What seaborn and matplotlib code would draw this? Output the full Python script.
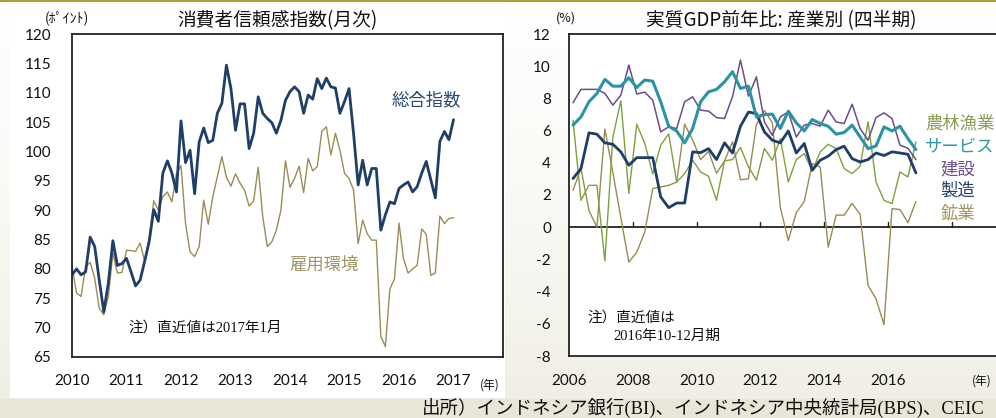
import numpy as np
import pandas as pd
import matplotlib
matplotlib.use("Agg")
import matplotlib.pyplot as plt
import seaborn as sns
from matplotlib.patches import Rectangle

# ---------------- data ----------------
# Consumer confidence (monthly, Jan 2010 - Jan 2017)
month_start = 2010
n_months = 85
consumer_total = [79.0, 80.0, 79.0, 79.5, 85.4, 83.8, 78.1, 72.7, 77.6, 84.8, 80.6, 80.9,
                  81.8, 79.5, 77.1, 78.1, 81.3, 84.7, 90.1, 88.1, 96.3, 98.4, 96.3, 93.1,
                  105.2, 98.1, 100.2, 92.8, 101.6, 104.0, 101.5, 101.9, 106.5, 108.2, 114.7, 110.7,
                  103.6, 108.1, 108.1, 100.5, 103.1, 109.3, 106.5, 105.6, 104.9, 103.1, 105.3, 108.7,
                  110.2, 111.0, 110.2, 106.5, 109.6, 108.9, 112.4, 110.7, 112.5, 111.0, 110.8, 106.5,
                  108.5, 110.7, 103.0, 94.3, 98.5, 94.3, 97.1, 97.1, 86.6, 89.2, 91.4, 91.1,
                  93.7, 94.3, 94.8, 93.1, 94.0, 96.3, 98.3, 95.2, 92.1, 101.7, 103.4, 102.0,
                  105.4]
consumer_employment = [80.4, 75.9, 75.3, 80.4, 81.1, 78.4, 73.3, 72.2, 75.3, 82.7, 79.3, 79.4,
                       83.2, 83.1, 83.0, 84.4, 81.3, 85.2, 91.6, 90.0, 92.3, 93.1, 91.4, 96.2,
                       97.6, 87.7, 82.9, 82.1, 83.8, 91.7, 87.6, 92.3, 95.7, 99.1, 95.6, 94.1,
                       96.2, 94.6, 93.4, 90.7, 91.6, 97.3, 88.9, 83.8, 84.6, 86.6, 90.0, 98.4,
                       93.9, 95.4, 97.5, 93.0, 98.8, 96.7, 97.4, 103.4, 104.2, 99.4, 103.1, 100.2,
                       96.3, 95.4, 93.4, 84.3, 88.3, 86.0, 84.9, 84.9, 68.5, 66.8, 76.6, 78.3,
                       87.8, 81.7, 79.3, 80.0, 80.6, 86.8, 85.9, 78.9, 79.3, 89.0, 87.7, 88.6,
                       88.7]
left_label_total = "総合指数"
left_label_employment = "雇用環境"
left_years = [2010, 2011, 2012, 2013, 2014, 2015, 2016, 2017]
left_yticks = [65, 70, 75, 80, 85, 90, 95, 100, 105, 110, 115, 120]

# Real GDP yoy by industry (quarterly, 2006Q1 - 2016Q4)
q_start = 2006
n_quarters = 44
gdp_agriculture = [6.65, 1.67, 2.6, 2.6, -2.1, 5.6, 7.85, 2.1, 6.4, 5.2, 3.3,
                   5.1, 5.8, 2.8, 3.33, 4.16, 3.43, 3.16, 1.67, 4.12, 4.2, 4.95,
                   3.75, 2.92, 4.89, 4.16, 5.5, 2.81, 4.2, 4.57, 3.49, 4.68, 5.15,
                   4.88, 3.64, 3.33, 3.78, 6.54, 2.81, 1.67, 1.46, 3.43, 3.12, 5.3]
gdp_services = [6.34, 6.85, 7.79, 8.31, 9.18, 8.76, 8.76, 9.28, 8.68, 9.14, 9.07,
                7.79, 6.27, 5.98, 5.24, 6.13, 7.79, 8.41, 8.56, 9.03, 9.66, 8.62,
                8.76, 6.85, 7.0, 7.02, 6.13, 7.21, 6.48, 5.98, 6.69, 6.44, 6.27,
                5.78, 5.88, 6.34, 5.61, 4.88, 5.05, 6.23, 5.98, 6.27, 5.5, 4.82]
gdp_construction = [7.73, 8.56, 8.56, 8.56, 8.31, 7.58, 8.2, 10.07, 8.27, 8.39, 7.89,
                    5.92, 6.23, 6.13, 7.79, 8.1, 7.27, 7.21, 6.81, 6.75, 8.1, 10.38,
                    8.14, 9.34, 6.54, 5.71, 6.85, 7.17, 5.6, 6.34, 6.44, 6.27, 7.27,
                    6.54, 6.44, 7.64, 6.13, 5.4, 6.81, 7.1, 6.75, 5.1, 4.9, 4.2]
gdp_manufacturing = [3.02, 3.64, 5.86, 5.78, 5.24, 5.15, 4.68, 3.85, 4.32, 4.32, 4.32,
                     1.88, 1.21, 1.5, 1.5, 4.68, 4.63, 4.88, 4.2, 5.24, 4.61, 6.27,
                     7.15, 7.06, 5.92, 5.4, 5.24, 5.98, 4.61, 5.2, 3.54, 4.16, 4.41,
                     4.82, 5.03, 4.26, 4.05, 4.2, 4.61, 4.45, 4.68, 4.61, 4.53, 3.37]
gdp_mining = [2.29, 3.64, 1.04, 0.0, 6.1, 3.4, 0.6, -2.17, -1.55, -0.3, 2.4,
              2.5, 2.6, 2.8, 6.4, 5.43, 4.2, 4.7, 3.35, 4.12, 5.3, 2.95,
              3.0, 6.38, 7.25, 6.5, 1.22, -0.82, 0.9, 1.6, 3.95, 3.74, -1.24,
              0.75, 0.75, 1.48, 0.8, -3.62, -4.45, -6.05, 1.15, 1.1, 0.28, 1.6]
right_labels = ["農林漁業", "サービス", "建設", "製造", "鉱業"]
right_xticks = [2006, 2008, 2010, 2012, 2014, 2016, 2018]
right_xticklabels = ["2006", "2008", "2010", "2012", "2014", "2016", ""]
right_yticks = [-8, -6, -4, -2, 0, 2, 4, 6, 8, 10, 12]

# ---------------- style ----------------
sns.set_theme(style="white")
plt.rcParams["font.family"] = ["Lato", "Noto Sans CJK JP", "DejaVu Sans"]
plt.rcParams["axes.unicode_minus"] = False

NAVY = "#1f3e68"
OLIVE = "#9b8d55"
TEAL = "#2b93a6"
PURPLE = "#6b4c8c"
GREEN = "#7ea13c"
MINING = "#9a8b52"
JP = ["Noto Sans CJK JP", "DejaVu Sans"]
SERIF = ["Liberation Serif", "Noto Sans CJK JP"]

W, H = 996, 418
fig = plt.figure(figsize=(W / 100, H / 100), dpi=100)


def fx(px):
    return px / W


def fy(py):
    return 1 - py / H


# background
bg = fig.add_axes([0, 0, 1, 1], zorder=-10)
bg.set_axis_off()
yy = np.linspace(0, 1, H)[:, None]
xx = np.linspace(0, 1, W)[None, :]
t = np.clip(0.05 + 0.55 * yy ** 1.6 + 0.0 * xx, 0, 1)
t[int(H * 0.955):, :] = 0.85
white = np.array([1.0, 1.0, 1.0])
beige = np.array([0.895, 0.885, 0.82])
img = white * (1 - t[..., None]) + beige * t[..., None]
bg.imshow(img, aspect="auto", extent=[0, 1, 0, 1])
bg.set_xlim(0, 1)
bg.set_ylim(0, 1)
bg.add_patch(Rectangle((fx(10), fy(398)), fx(505) - fx(10), fy(4) - fy(398),
                       facecolor="white", edgecolor="none"))
bg.add_patch(Rectangle((0, fy(2)), 1, 2 / H, facecolor="#a9a23a", edgecolor="none"))

# ---------------- left chart ----------------
months = month_start + np.arange(n_months) / 12
df_left = pd.DataFrame({"t": months, "total": consumer_total,
                        "employment": consumer_employment})

ax1 = fig.add_axes([fx(72), fy(357), fx(503) - fx(72), fy(34) - fy(357)])
sns.lineplot(data=df_left, x="t", y="employment", ax=ax1, color=OLIVE, lw=1.0)
sns.lineplot(data=df_left, x="t", y="total", ax=ax1, color=NAVY, lw=2.0)
ax1.set_xlim(2010, 2010 + 431 / 54.5)
ax1.set_ylim(65, 120)
ax1.set_xticks(left_years)
ax1.set_xticklabels([str(y) for y in left_years])
ax1.set_yticks(left_yticks)
ax1.set_xlabel("")
ax1.set_ylabel("")
ax1.set_facecolor("white")
ax1.grid(False)
for s in ax1.spines.values():
    s.set_color("#222222")
    s.set_linewidth(1.3)
    s.set_visible(True)
ax1.tick_params(axis="both", direction="in", length=5, width=1.0, color="#222222",
                labelsize=11, labelcolor="#111111")
ax1.tick_params(axis="x", pad=12)
ax1.tick_params(axis="y", pad=15)

fig.text(fx(277), fy(21), "消費者信頼感指数(月次)", fontsize=13.5, family=JP,
         ha="center", va="center", color="#111111")
fig.text(fx(67), fy(18), "(ﾎﾟｲﾝﾄ)", fontsize=10, family=JP,
         ha="center", va="center", color="#111111")
fig.text(fx(426), fy(100), left_label_total, fontsize=12.5, family=JP,
         ha="center", va="center", color="#2b4a72")
fig.text(fx(324), fy(265), left_label_employment, fontsize=12.5, family=JP,
         ha="center", va="center", color="#a39466")
fig.text(fx(128), fy(328), "注）直近値は2017年1月", fontsize=10.5, family=SERIF,
         ha="left", va="center", color="#111111")
fig.text(fx(490), fy(385), "(年)", fontsize=8.5, family=JP,
         ha="center", va="center", color="#111111")

# ---------------- right chart ----------------
quarters = q_start + (np.arange(n_quarters) + 0.5) / 4
df_right = pd.DataFrame({"t": quarters, "agri": gdp_agriculture, "serv": gdp_services,
                         "cons": gdp_construction, "manu": gdp_manufacturing,
                         "mine": gdp_mining})

ax2 = fig.add_axes([fx(569), fy(356), fx(998) - fx(569), fy(34) - fy(356)])
sns.lineplot(data=df_right, x="t", y="mine", ax=ax2, color=MINING, lw=1.0)
sns.lineplot(data=df_right, x="t", y="agri", ax=ax2, color=GREEN, lw=1.0)
sns.lineplot(data=df_right, x="t", y="cons", ax=ax2, color=PURPLE, lw=1.1)
sns.lineplot(data=df_right, x="t", y="manu", ax=ax2, color=NAVY, lw=2.0)
sns.lineplot(data=df_right, x="t", y="serv", ax=ax2, color=TEAL, lw=2.2)
ax2.set_xlim(2006, 2006 + 429 / 31.9)
ax2.set_ylim(-8, 12)
ax2.set_yticks(right_yticks)
ax2.set_xticks(right_xticks)
ax2.set_xticklabels(right_xticklabels)
ax2.set_xlabel("")
ax2.set_ylabel("")
ax2.set_facecolor("white")
ax2.grid(False)
for name, s in ax2.spines.items():
    s.set_color("#222222")
    s.set_linewidth(1.3)
ax2.spines["right"].set_visible(False)
ax2.axhline(0, color="#222222", lw=1.3, zorder=1)
for xt in right_xticks[1:]:
    ax2.plot([xt, xt], [0, 0.3], color="#222222", lw=1.0, zorder=1)
ax2.tick_params(axis="y", direction="in", length=5, width=1.0, color="#222222",
                labelsize=11, labelcolor="#111111", pad=13)
ax2.tick_params(axis="x", direction="in", length=0, labelsize=11,
                labelcolor="#111111", pad=13)

fig.text(fx(781), fy(21), "実質GDP前年比: 産業別 (四半期)", fontsize=13.5, family=JP,
         ha="center", va="center", color="#111111")
fig.text(fx(566), fy(18), "(%)", fontsize=9, family=JP,
         ha="center", va="center", color="#111111")
label_colors = ["#86a04e", "#2e96a8", "#6e4e8e", "#25406a", "#a39466"]
label_pos = [(960, 123), (960, 147), (958, 170), (958, 191), (958, 213)]
for lab, col, (px, py) in zip(right_labels, label_colors, label_pos):
    fig.text(fx(px), fy(py), lab, fontsize=12.5, family=JP,
             ha="center", va="center", color=col)
fig.text(fx(587), fy(318), "注）直近値は", fontsize=10.5, family=SERIF,
         ha="left", va="center", color="#111111")
fig.text(fx(613), fy(336), "2016年10-12月期", fontsize=10.5, family=SERIF,
         ha="left", va="center", color="#111111")
fig.text(fx(982), fy(381), "(年)", fontsize=8.5, family=JP,
         ha="center", va="center", color="#111111")

fig.text(fx(985), fy(408), "出所）インドネシア銀行(BI)、インドネシア中央統計局(BPS)、CEIC",
         fontsize=13.3, family=SERIF, ha="right", va="center", color="#111111")

fig.savefig("out.png", dpi=100)
